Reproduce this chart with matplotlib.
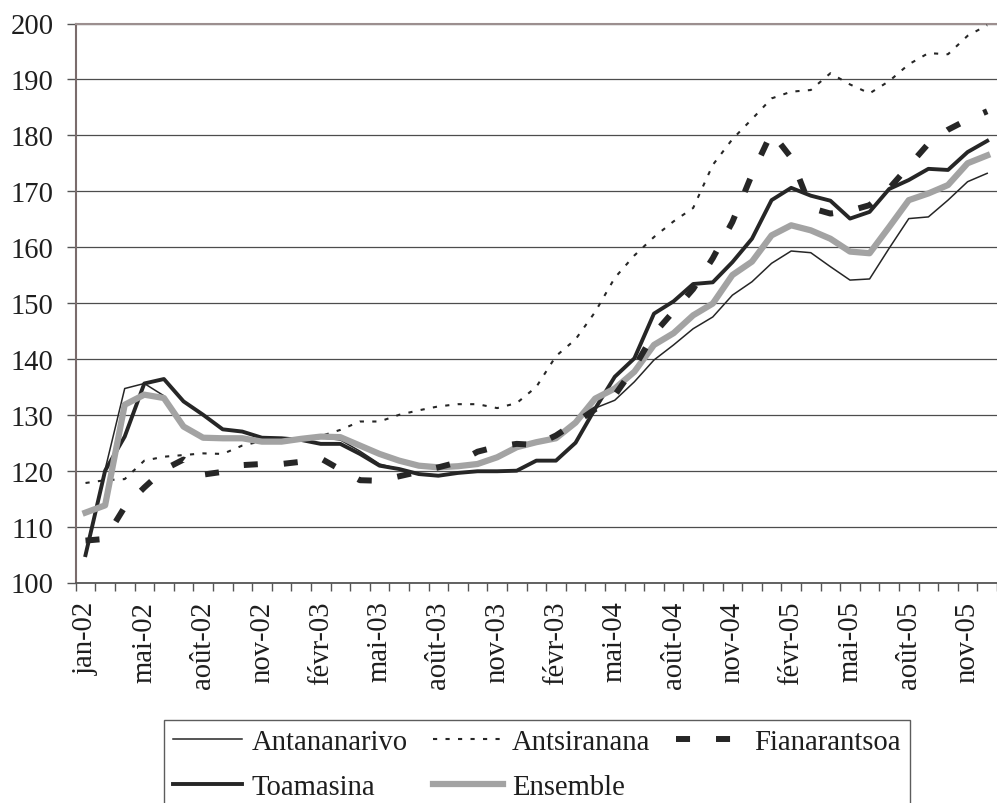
import numpy as np
import matplotlib
matplotlib.use("Agg")
import matplotlib.pyplot as plt

plt.rcParams['font.family'] = ['Liberation Serif', 'DejaVu Serif']

# libellés des mois (un sur trois), tels qu'ils figurent sur l'original
mois = ['jan-02', 'mai-02', 'août-02', 'nov-02', 'févr-03', 'mai-03', 'août-03',
        'nov-03', 'févr-03', 'mai-04', 'août-04', 'nov-04', 'févr-05', 'mai-05',
        'août-05', 'nov-05']

# indices de prix par province
antananarivo = [105.2, 120.2, 134.7, 135.6, 133.4, 127.7, 125.7, 125.6, 125.6, 125.0,
                125.0, 125.5, 125.9, 125.5, 123.5, 121.2, 120.3, 119.5, 119.2, 119.6,
                119.9, 119.9, 120.0, 121.8, 121.8, 125.0, 131.2, 132.6, 135.9, 139.8,
                142.5, 145.4, 147.5, 151.4, 153.8, 157.1, 159.3, 159.0, 156.5, 154.1,
                154.3, 159.8, 165.1, 165.4, 168.4, 171.7, 173.2]
antsiranana = [117.8, 118.3, 118.5, 121.8, 122.5, 122.8, 123.1, 123.0, 124.5, 125.3,
               125.4, 125.8, 126.2, 127.3, 128.8, 128.8, 130.0, 130.8, 131.5, 131.9,
               131.9, 131.2, 132.1, 135.0, 140.5, 143.5, 148.4, 154.5, 158.5, 161.8,
               164.6, 167.0, 174.7, 179.3, 182.9, 186.6, 187.8, 188.1, 191.1, 189.1,
               187.5, 189.7, 192.7, 194.7, 194.5, 197.8, 199.7]
fianarantsoa = [107.5, 107.8, 113.5, 117.0, 120.2, 122.0, 119.3, 119.8, 121.0, 121.2,
                121.2, 121.6, 122.2, 120.2, 118.3, 118.2, 119.0, 119.8, 120.6, 121.5,
                123.4, 124.3, 124.8, 124.6, 126.3, 128.6, 131.0, 133.5, 138.5, 144.5,
                148.5, 152.5, 158.0, 164.5, 173.0, 180.5, 176.0, 167.0, 166.0, 166.5,
                167.5, 170.5, 174.5, 178.5, 181.0, 182.8, 184.3]
toamasina = [104.9, 120.0, 126.1, 135.6, 136.4, 132.4, 130.0, 127.4, 127.0, 125.9,
             125.8, 125.5, 124.8, 124.8, 123.0, 120.9, 120.3, 119.4, 119.1, 119.6,
             119.9, 119.9, 120.0, 121.8, 121.8, 125.0, 131.1, 136.8, 140.1, 148.1,
             150.3, 153.4, 153.7, 157.3, 161.5, 168.4, 170.6, 169.2, 168.3, 165.1,
             166.3, 170.4, 172.0, 174.0, 173.8, 177.0, 179.0]
ensemble = [112.5, 113.8, 131.8, 133.6, 133.0, 127.9, 125.9, 125.8, 125.8, 125.2,
            125.2, 125.7, 126.1, 126.0, 124.5, 123.0, 121.8, 120.9, 120.6, 120.8,
            121.2, 122.4, 124.2, 125.1, 125.8, 128.6, 132.9, 134.7, 137.7, 142.5,
            144.6, 147.8, 149.9, 155.0, 157.4, 162.1, 163.9, 163.0, 161.5, 159.2,
            158.9, 163.6, 168.4, 169.6, 171.1, 175.0, 176.4]

x = np.arange(len(ensemble))
noir = '#262626'

fig = plt.figure(figsize=(9.97, 8.04), dpi=100)
ax = fig.add_axes([75.7 / 997, 1 - 583.5 / 804, (997 - 75.7) / 997, 559 / 804])

l_anta, = ax.plot(x, antananarivo, color=noir, lw=1.1, zorder=3, label='Antananarivo')
l_ants, = ax.plot(x, antsiranana, color=noir, lw=1.5, dashes=(2.0, 4.0),
                  zorder=3, label='Antsiranana')
l_toam, = ax.plot(x, toamasina, color=noir, lw=2.8, zorder=4, label='Toamasina')
l_ens, = ax.plot(x, ensemble, color='#a3a3a3', lw=4.5, zorder=5, label='Ensemble')
l_fian, = ax.plot(x, fianarantsoa, color=noir, lw=4.3, dashes=(2.35, 4.35),
                  dash_capstyle='butt', zorder=6, label='Fianarantsoa')

# axes
ax.set_ylim(100, 200)
ax.set_xlim(-0.5, (997 - 85.6) / 19.78)
ax.set_yticks(np.arange(100, 201, 10))
ax.set_xticks(np.arange(0, 46, 3))
ax.set_xticklabels(mois, rotation=90)
ax.set_xticks(np.arange(-0.5, 47, 1), minor=True)

ax.tick_params(axis='y', length=6.5, width=1, color='#555555', pad=9.5,
               labelsize=20.6, labelcolor='#1e1e1e')
ax.tick_params(axis='x', which='major', length=0, pad=13,
               labelsize=20.6, labelcolor='#1e1e1e')
ax.tick_params(axis='x', which='minor', length=6, width=1, color='#555555')

ax.yaxis.grid(True, color='#4d4d4d', lw=0.9)
ax.set_axisbelow(True)

ax.spines['right'].set_visible(False)
ax.spines['left'].set_color('#7a6c6c')
ax.spines['left'].set_linewidth(1.5)
ax.spines['top'].set_color('#9c8f8f')
ax.spines['top'].set_linewidth(1.5)
ax.spines['bottom'].set_color('#555555')
ax.spines['bottom'].set_linewidth(1.3)

# légende (coupée en bas comme sur l'original)
handles = [l_anta, l_toam, l_ants, l_ens, l_fian]
leg = fig.legend(handles, [h.get_label() for h in handles], ncol=3,
                 loc='upper left', bbox_to_anchor=(164 / 997, 1 - 721 / 804),
                 fontsize=20.6, frameon=True, fancybox=False,
                 handlelength=2.44, handletextpad=0.31, columnspacing=0.9,
                 borderpad=0.3, labelspacing=0.68, borderaxespad=0)
leg.get_frame().set_edgecolor('#333333')
leg.get_frame().set_linewidth(1.0)
for t in leg.get_texts():
    t.set_color('#1e1e1e')

fig.savefig('out.png', dpi=100)
